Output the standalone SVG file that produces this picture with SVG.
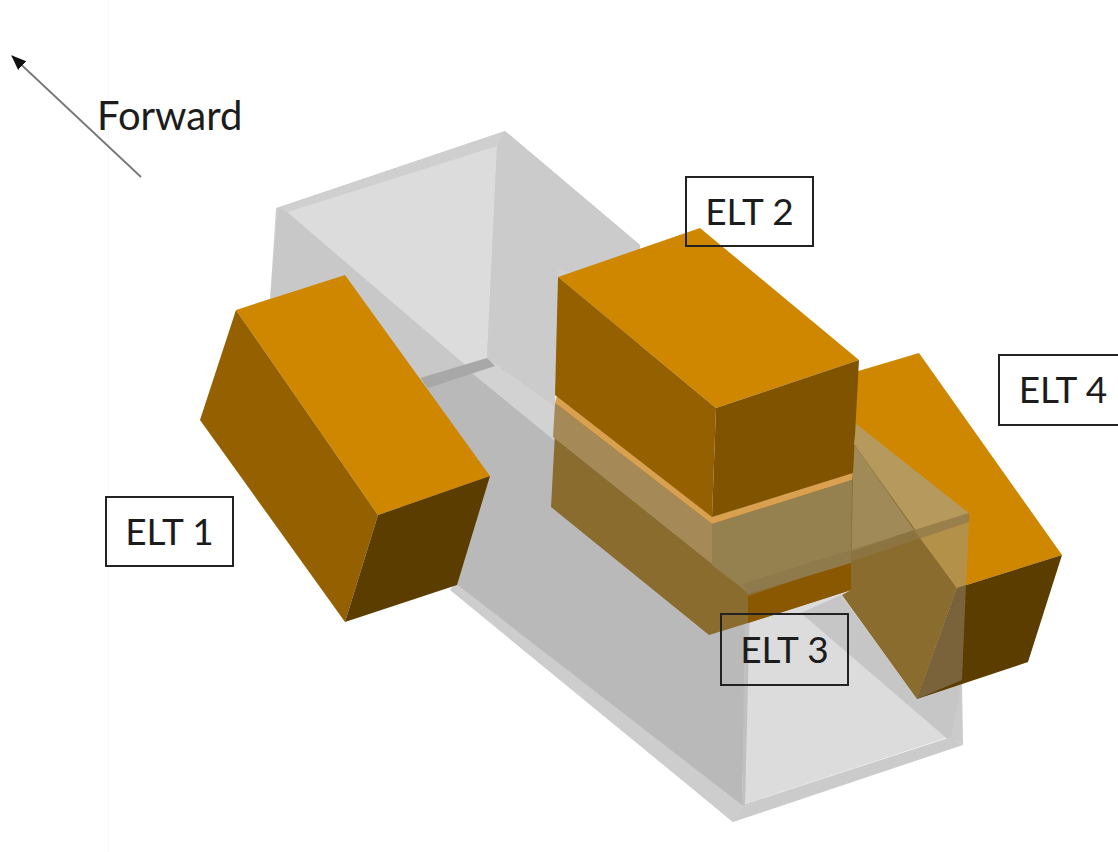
<svg xmlns="http://www.w3.org/2000/svg" width="1118" height="852" viewBox="0 0 1118 852">
<style>
.label{fill:none;stroke:#222;stroke-width:2}
.t{font-family:Lato,"Open Sans",sans-serif;font-size:37px;fill:#1c1c1c}
.top{fill:#cf8700}.side{fill:#956100}.dark{fill:#5c3c00}
</style>
<defs>
<filter id="soft" x="-5%" y="-5%" width="110%" height="110%"><feGaussianBlur stdDeviation="0.6"/></filter>
<marker id="head" markerWidth="16" markerHeight="14" refX="14" refY="6" orient="auto" markerUnits="userSpaceOnUse"><path d="M0 0L15 6L0 12Z" fill="#111"/></marker>
</defs>
<rect width="1118" height="852" fill="#fff"/>
<rect x="108" y="0" width="1" height="852" fill="#f8f8f8"/>
<g id="tunnel" filter="url(#soft)">
<polygon points="276,208 505,131 640,245 640,420 487,365 428,382 455,590 270,300" fill="#d0d0d0"/>
<polygon points="287,212 497,146 487,358 470,369" fill="#dcdcdc"/>
<polygon points="278,208 505,131 497,146 287,212" fill="#cfcfcf"/>
<polygon points="497,146 505,131 640,245 640,300 615,283 558,270 555,410 487,358" fill="#cbcbcb"/>
<polygon points="278,208 287,212 470,369 420,384 345,275 236,310 270,300" fill="#c8c8c8"/>
<polygon points="420,384 487,362 555,440 748,590 742,805 733,822 455,590" fill="#b9b9b9"/>
<polygon points="468,370 487,358 560,410 560,445" fill="#d2d2d2"/>
<polygon points="420,378 487,358 495,366 428,388" fill="#a8a8a8"/>
<polygon points="455,583 742,805 733,822 450,590" fill="#cdcdcd"/>
<polygon points="748,590 850,560 955,735 742,805" fill="#dcdcdc"/>
<polygon points="801,613 841,595 917,699 962,680 962,738 951,742" fill="#c6c6c6"/>
<polygon points="742,805 951,737 963,745 733,822" fill="#cbcbcb"/>
<polygon points="951,737 962,680 963,745" fill="#cbcbcb"/>
<polygon points="745,600 750,600 745,805 742,805" fill="#c0c0c0"/>
</g>
<g id="elt1" filter="url(#soft)">
<polygon class="top" points="236,310 345,275 490,476 378,515"/>
<polygon class="side" points="236,310 378,515 345,622 200,420"/>
<polygon class="dark" points="378,515 490,476 457,585 345,622"/>
</g>
<g id="elt4" filter="url(#soft)">
<polygon class="top" points="855,372 919,353 1062,555 957,588 855,447"/>
<polygon class="dark" points="957,588 1062,555 1028,662 917,699"/>
<polygon points="855,423 969,513 966,585 957,588 855,447" fill="#b6995c"/>
<polygon points="851,440 957,588 917,699 842,595 851,590" fill="#8a6c2e"/>
<polygon points="851,440 914,530 851,552" fill="#a08a58"/>
<polygon points="914,530 969,513 966,585 957,588" fill="#b3914a"/>
<polygon points="957,588 966,585 962,680 917,699" fill="#7a623a"/>
</g>
<g id="elt3" filter="url(#soft)">
<polygon points="557,395 712,517 853,472 851,590 748,623 709,635 551,507" fill="#8a6c2e"/>
<polygon points="557,395 712,517 853,472 852,480 712,524 555,403" fill="#d9a050"/>
<polygon points="555,403 712,524 742,588 553,437" fill="#a58a58"/>
<polygon points="712,524 852,480 851,563 748,594 742,588 712,565" fill="#958050"/>
<polygon points="748,594 851,563 851,590 748,623" fill="#8a5800"/>
<polygon points="742,584 969,513 969,522 748,596" fill="#8d7748" opacity=".7"/>
</g>
<g id="elt2" filter="url(#soft)">
<polygon class="top" points="558,277 700,228 859,360 716,408"/>
<polygon class="side" points="558,277 716,408 712,517 555,395"/>
<polygon points="716,408 859,360 853,473 712,517" fill="#7f5300"/>
</g>
<g id="connectors">
<line x1="141" y1="177" x2="12" y2="56" stroke="#777" stroke-width="1.8" marker-end="url(#head)"/>
</g>
<g id="label-forward"><text class="t" x="97" y="130" style="font-size:40px">Forward</text></g>
<g id="label-elt1"><rect class="label" x="106" y="497" width="127" height="69"/><text class="t" x="169.500" y="545" text-anchor="middle">ELT 1</text></g>
<g id="label-elt2"><rect class="label" x="686" y="177" width="127" height="69"/><text class="t" x="749.500" y="225" text-anchor="middle">ELT 2</text></g>
<g id="label-elt3"><rect class="label" x="721" y="614" width="127" height="71"/><text class="t" x="784.500" y="663" text-anchor="middle">ELT 3</text></g>
<g id="label-elt4"><rect class="label" x="999" y="355" width="130" height="70"/><text class="t" x="1063" y="403" text-anchor="middle">ELT 4</text></g>
</svg>
